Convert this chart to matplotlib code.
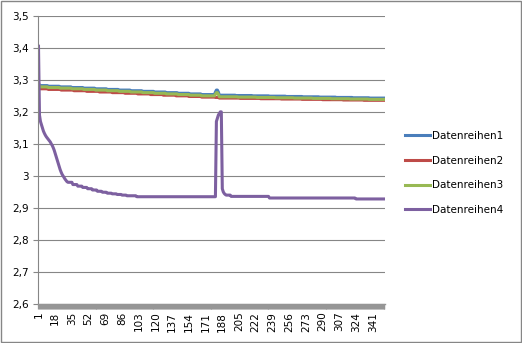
import numpy as np
import matplotlib
matplotlib.use('Agg')
import matplotlib.pyplot as plt
from matplotlib.patches import Rectangle

plt.rcParams['font.family'] = ['DejaVu Sans']

s1_levels = [3.290, 3.282, 3.280, 3.278, 3.276, 3.274, 3.272, 3.270, 3.268,
             3.266, 3.264, 3.262, 3.260, 3.258, 3.256, 3.254,
             3.262, 3.268, 3.268, 3.262,
             3.252, 3.251, 3.250, 3.249, 3.248, 3.247, 3.246, 3.245, 3.244, 3.243]
s1_counts = [1, 9] + [12] * 13 + [14] + [1, 1, 1, 1] + [17] * 9 + [16]

s2_levels = [3.285, 3.272, 3.270, 3.268, 3.266, 3.264, 3.262, 3.260, 3.258,
             3.256, 3.254, 3.252, 3.250, 3.248, 3.246,
             3.245,
             3.243, 3.242, 3.241, 3.240, 3.239, 3.238, 3.237, 3.236]
s2_counts = [1, 9] + [13] * 12 + [14] + [4] + [21] * 7 + [22]

s3_levels = [3.288, 3.278, 3.276, 3.274, 3.272, 3.270, 3.268, 3.266, 3.264,
             3.262, 3.260, 3.258, 3.256, 3.254, 3.252, 3.250,
             3.255, 3.260, 3.260, 3.255,
             3.247, 3.246, 3.245, 3.244, 3.243, 3.242, 3.241, 3.240, 3.239]
s3_counts = [1, 9] + [12] * 13 + [14] + [1, 1, 1, 1] + [19] * 8 + [17]

s4_levels = [3.405, 3.19, 3.17, 3.16, 3.15, 3.14, 3.133, 3.127, 3.122, 3.118,
             3.114, 3.11, 3.106, 3.10, 3.095, 3.088, 3.08, 3.07, 3.06, 3.05,
             3.04, 3.03, 3.02, 3.012, 3.005, 3.0, 2.995, 2.99, 2.986, 2.982,
             2.980, 2.973, 2.968, 2.964, 2.960, 2.956, 2.952, 2.949, 2.946,
             2.944, 2.942, 2.940, 2.938, 2.935,
             3.17, 3.18, 3.19, 3.195, 3.20, 3.20,
             2.96, 2.95, 2.945, 2.942, 2.94, 2.936, 2.931, 2.928]
s4_counts = [1] * 30 + [5] * 12 + [10, 81] + [1] * 6 + [1] * 4 + [5, 39, 88, 30]

series = [np.repeat(s1_levels, s1_counts), np.repeat(s2_levels, s2_counts),
          np.repeat(s3_levels, s3_counts), np.repeat(s4_levels, s4_counts)]
labels = ['Datenreihen1', 'Datenreihen2', 'Datenreihen3', 'Datenreihen4']
colors = ['#4a7ebb', '#be4b48', '#98b954', '#7d60a0']

n = len(series[0])
x = np.arange(1, n + 1)
yticks = [2.6, 2.7, 2.8, 2.9, 3.0, 3.1, 3.2, 3.3, 3.4, 3.5]
ytick_labels = ['2,6', '2,7', '2,8', '2,9', '3', '3,1', '3,2', '3,3', '3,4', '3,5']

fig = plt.figure(figsize=(5.22, 3.43), dpi=100)
ax = fig.add_axes([0.0728, 0.1137, 0.6647, 0.8403])

for y, lab, c in zip(series, labels, colors):
    ax.plot(x, y, color=c, lw=2.2, label=lab, solid_joinstyle='round')

ax.set_xlim(0.5, n + 0.5)
ax.set_ylim(2.6, 3.5)
ax.set_yticks(yticks)
ax.set_yticklabels(ytick_labels, fontsize=7.5)
ax.set_xticks(np.arange(1, n + 1, 17))
ax.set_xticklabels([str(v) for v in range(1, n + 1, 17)], rotation=90, fontsize=7.5)
ax.set_xticks(x, minor=True)
ax.yaxis.grid(True, color='#868686', lw=0.8)
ax.set_axisbelow(True)

for s in ['top', 'right']:
    ax.spines[s].set_visible(False)
ax.spines['left'].set_color('#868686')
ax.spines['bottom'].set_color('#969696')
ax.spines['bottom'].set_linewidth(1)
ax.tick_params(axis='y', color='#868686', length=3.5, width=0.8, pad=3)
ax.tick_params(axis='x', which='both', color='#969696', length=3.5, width=0.9, pad=2)

fig.legend(loc='center left', bbox_to_anchor=(0.776, 0.4956), frameon=False,
           fontsize=7.5, handlelength=2.4, handletextpad=0.2, labelspacing=1.4,
           borderpad=0, borderaxespad=0)

fig.patches.append(Rectangle((0.001, 0.002), 0.997, 0.995, transform=fig.transFigure,
                             fill=False, edgecolor='#868686', lw=1))

plt.savefig('out.png', dpi=100)
plt.close()
